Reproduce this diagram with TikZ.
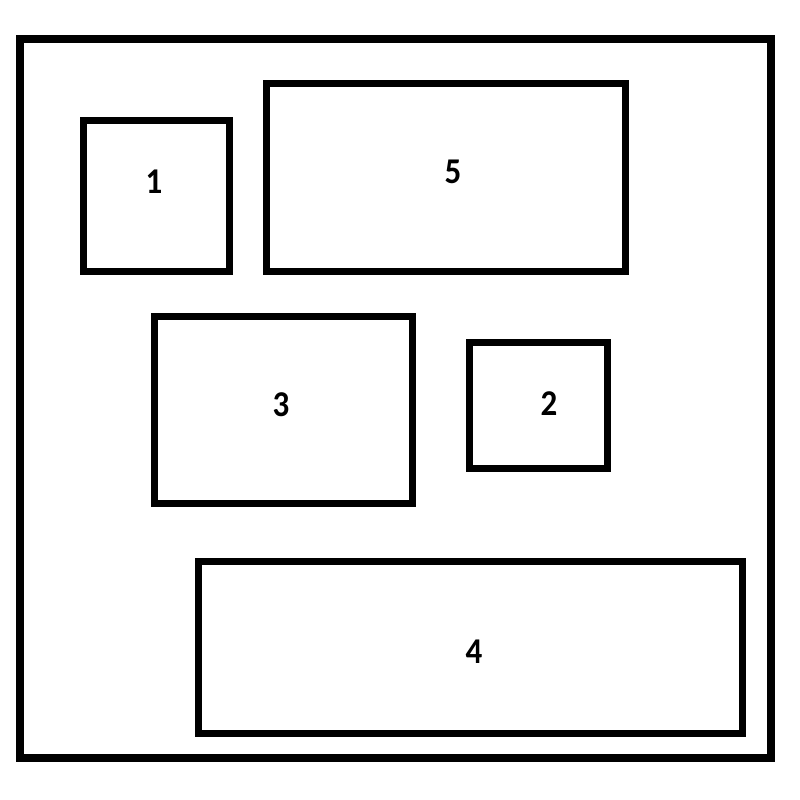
\documentclass[tikz,border=0pt]{standalone}
\usepackage{fontspec}
\setmainfont{Carlito}
\begin{document}
\begin{tikzpicture}[x=1pt,y=-1pt,
  box/.style={draw=black,line width=7pt,fill=none},
  lbl/.style={font=\fontsize{33}{33}\selectfont\bfseries,inner sep=0pt,yscale=1.1}]
\useasboundingbox (0,0) rectangle (800,800);
\fill[white] (0,0) rectangle (800,800);
\draw[box,line width=7.5pt] (20,39) rectangle (771,758);
\draw[box] (83,120.5) rectangle (229,271);
\draw[box] (266,83.5) rectangle (625,271);
\draw[box] (154,316.5) rectangle (412,503);
\draw[box] (469,342) rectangle (607,468);
\draw[box] (198,561) rectangle (742,733);
\node[lbl] (l1) at (154,182) {1};
\node[lbl] (l5) at (453,172) {5};
\node[lbl] (l3) at (281,405) {3};
\node[lbl] (l2) at (549,404) {2};
\node[lbl] (l4) at (474,652) {4};
\end{tikzpicture}
\end{document}
